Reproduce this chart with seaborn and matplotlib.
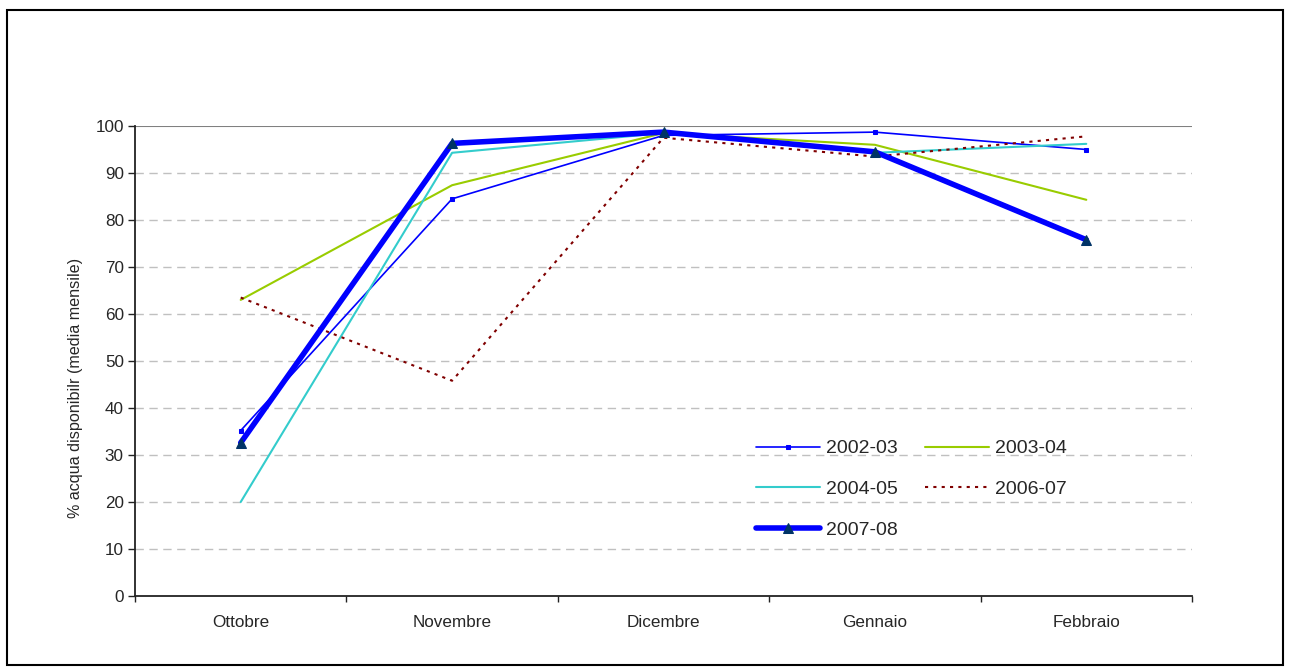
import matplotlib
matplotlib.use("Agg")
import matplotlib.pyplot as plt
import seaborn as sns
import pandas as pd
from matplotlib.patches import Rectangle

months = ["Ottobre", "Novembre", "Dicembre", "Gennaio", "Febbraio"]
s2002_03 = [35.2, 84.5, 98.0, 98.7, 95.0]
s2003_04 = [63.0, 87.4, 98.5, 96.0, 84.3]
s2004_05 = [20.0, 94.3, 98.5, 94.3, 96.2]
s2006_07 = [63.5, 45.8, 97.5, 93.5, 97.8]
s2007_08 = [32.6, 96.3, 98.7, 94.5, 75.8]
y_label = "% acqua disponibilr (media mensile)"

sns.set_theme(style="white")
plt.rcParams['font.family'] = ['Liberation Sans', 'DejaVu Sans']

fig = plt.figure(figsize=(12.89, 6.69), dpi=100)
ax = fig.add_axes([135/1289, 1-596/669, (1192-135)/1289, (596-126)/669])

styles = [
    ("2002-03", s2002_03, dict(color="#0000FF", lw=1.2, marker="s", ms=3.5, mec="#0000FF", mfc="#0000FF")),
    ("2003-04", s2003_04, dict(color="#99CC00", lw=1.5)),
    ("2004-05", s2004_05, dict(color="#33CCCC", lw=1.5)),
    ("2006-07", s2006_07, dict(color="#800000", lw=1.5, dashes=(1.5, 2.5))),
    ("2007-08", s2007_08, dict(color="#0000FF", lw=4, marker="^", ms=7, mec="#003366", mfc="#003366")),
]
x = list(range(len(months)))
for name, vals, st in styles:
    df = pd.DataFrame({"x": x, "y": vals})
    sns.lineplot(data=df, x="x", y="y", ax=ax, label=name, **st)

ax.set_xlim(-0.5, 4.5)
ax.set_ylim(0, 100)
ax.set_yticks(range(0, 101, 10))
ax.set_xticks(x)
ax.set_xticklabels(months)
ax.set_xticks([i - 0.5 for i in range(6)], minor=True)
ax.tick_params(axis="x", which="major", length=0, labelsize=12.3, pad=14)
ax.tick_params(axis="x", which="minor", length=4, width=1, color="#222222", direction="out", bottom=True)
ax.tick_params(axis="y", length=5, width=1, color="#222222", direction="out", left=True, labelsize=12.3, pad=3)
ax.set_xlabel("")
ax.set_ylabel(y_label, fontsize=11.6, labelpad=8)
ax.yaxis.set_label_coords(-0.0495, 0.443)

for v in range(10, 100, 10):
    ax.axhline(v, color="#C0C0C0", lw=1, dashes=(6, 4), zorder=0)
ax.axhline(100, color="#808080", lw=1.5, zorder=0)

for side in ["top", "right"]:
    ax.spines[side].set_visible(False)
for side in ["left", "bottom"]:
    ax.spines[side].set_color("#222222")
    ax.spines[side].set_linewidth(1.3)

h, l = ax.get_legend_handles_labels()
order = [0, 2, 4, 1, 3]
leg = ax.legend([h[i] for i in order], [l[i] for i in order], ncol=2, frameon=False,
                loc="upper left", bbox_to_anchor=(0.578, 0.353), borderpad=0,
                fontsize=14, handlelength=3.3, columnspacing=1.4, labelspacing=1.18, handletextpad=0.3)

fig.patches.append(Rectangle((7/1289, 4/669), (1283-7)/1289, (662-7)/669, transform=fig.transFigure,
                             fill=False, edgecolor="black", lw=1.5))

fig.savefig("out.png", dpi=100)
